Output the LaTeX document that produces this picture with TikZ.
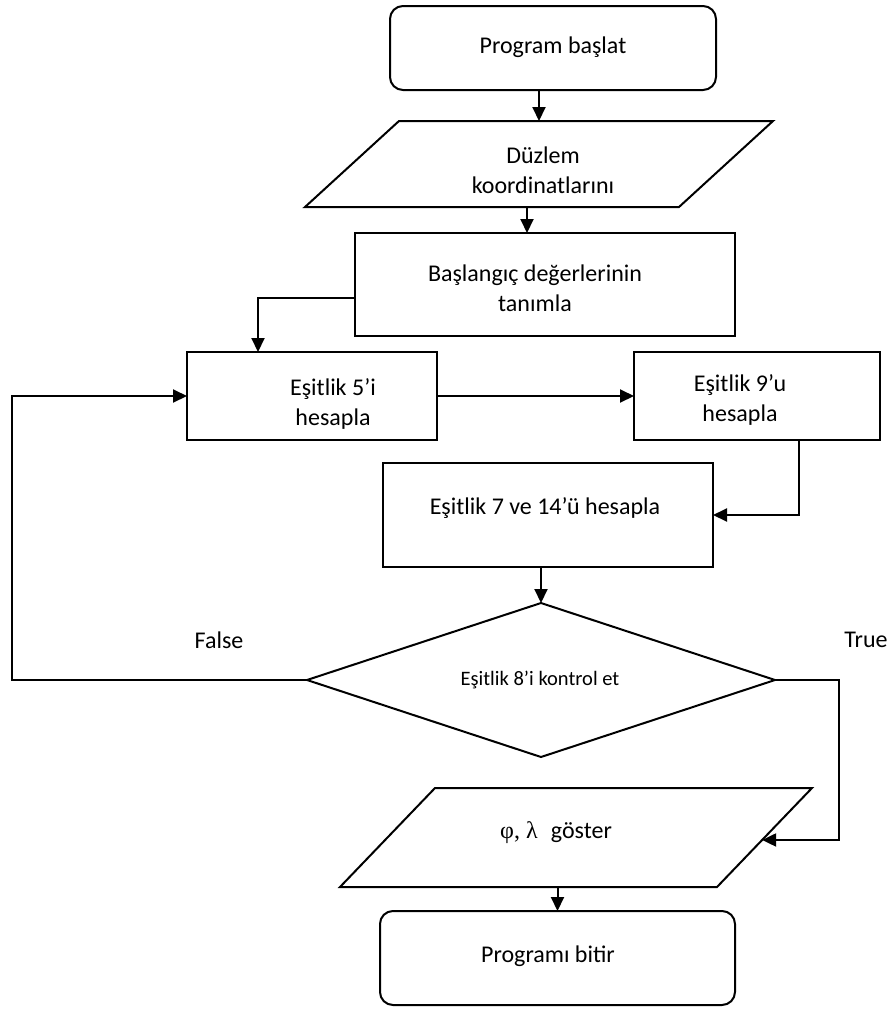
\documentclass[tikz,border=0pt]{standalone}
\usepackage{fontspec}
\setmainfont{Carlito}
\newfontfamily\greekfont{Liberation Serif}
\usetikzlibrary{shapes.geometric,arrows.meta,calc}
\begin{document}
\begin{tikzpicture}[x=1pt,y=-1pt,line width=2pt,
  shapebox/.style={draw, line width=2pt, inner sep=0pt, outer sep=0pt},
  rbox/.style={shapebox, rounded corners=13pt},
  ghost/.style={inner sep=0pt, outer sep=0pt},
  lbl/.style={font=\fontsize{24}{30}\selectfont, align=center, inner sep=0pt},
  smalllbl/.style={font=\fontsize{20.5}{25}\selectfont, align=center, inner sep=0pt},
  arr/.style={-{Triangle[length=14pt,width=13pt]}, line width=2pt}
]
\useasboundingbox (0,0) rectangle (889,1010);

% shapes
\node[rbox, minimum width=326pt, minimum height=84pt] (start) at (553,48) {};
\node[ghost, minimum width=468pt, minimum height=86pt] (p1) at (539,164) {};
\draw ($(p1.north west)+(94,0)$) -- (p1.north east) -- ($(p1.south east)+(-94,0)$) -- (p1.south west) -- cycle;
\node[shapebox, minimum width=380pt, minimum height=103pt] (init) at (545,284.5) {};
\node[shapebox, minimum width=250pt, minimum height=88pt] (box5) at (312,396) {};
\node[shapebox, minimum width=246pt, minimum height=88pt] (box9) at (757,396) {};
\node[shapebox, minimum width=330pt, minimum height=104pt] (box7) at (548,515) {};
\node[shapebox, shape=diamond, minimum width=468pt, minimum height=154pt] (dia) at (541,680) {};
\node[ghost, minimum width=472pt, minimum height=99pt] (p2) at (576,837.5) {};
\draw ($(p2.north west)+(95,0)$) -- (p2.north east) -- ($(p2.south east)+(-95,0)$) -- (p2.south west) -- cycle;
\node[rbox, minimum width=355pt, minimum height=94pt] (endb) at (557.5,958) {};

% texts
\node[lbl] (tstart) at (553,47) {Program başlat};
\node[lbl] (tp1) at (543,170) {Düzlem\\koordinatlarını};
\node[lbl] (tinit) at (535,288) {Başlangıç değerlerinin\\tanımla};
\node[lbl] (t5) at (333,404) {Eşitlik 5’i\\hesapla};
\node[lbl] (t9) at (740,400) {Eşitlik 9’u\\hesapla};
\node[lbl] (t7) at (545,508) {Eşitlik 7 ve 14’ü hesapla};
\node[smalllbl] (tdia) at (540,680) {Eşitlik 8’i kontrol et};
\node[lbl] (tfalse) at (219,640) {False};
\node[lbl] (ttrue) at (866,640) {True};
\node[lbl] (tp2) at (556,833) {{\greekfont φ, λ}\hspace{0.55em}göster};
\node[lbl] (tend) at (548,956) {Programı bitir};

% helper coordinates
\coordinate (lfalse) at (12,680);
\coordinate (ctrue) at (839,680);
\coordinate (p2se) at ($(p2.south east)+(-95,0)$);
\coordinate (p2in) at ($(p2.north east)!0.525!(p2se)$);

% connectors
\draw[arr] (start.south -| p1.north) -- (p1.north);
\draw[arr] ($(p1.south)+(-12,0)$) -- ($(init.north)+(-18,0)$);
\draw[arr] ($(init.west)+(0,13.5)$) -| ($(box5.north)+(-54,0)$);
\draw[arr] (box5.east) -- (box9.west);
\draw[arr] ($(box9.south)+(42,0)$) |- (box7.east);
\draw[arr] (box7.south -| dia.north) -- (dia.north);
\draw[arr] (dia.west) -- (lfalse) |- (box5.west);
\draw[arr] (dia.east) -- (ctrue) |- (p2in);
\draw[arr] (p2.south -| endb.north) -- (endb.north);
\end{tikzpicture}
\end{document}
